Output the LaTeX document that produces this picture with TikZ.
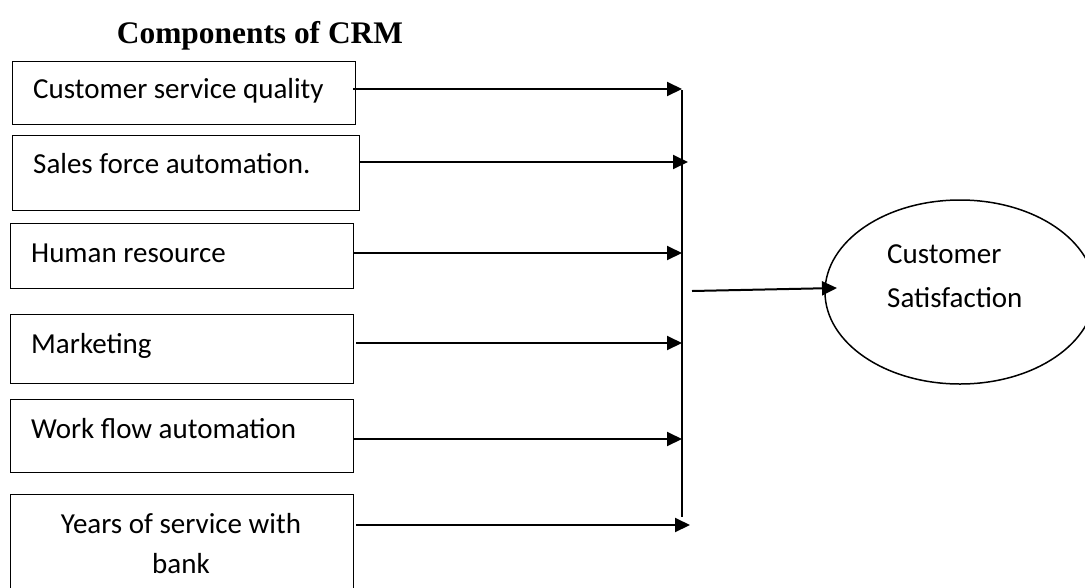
\documentclass[tikz,border=0pt]{standalone}
\usepackage{fontspec}
\setmainfont{Carlito}
\newfontfamily\titlefont{Liberation Serif}
\usetikzlibrary{shapes.geometric,arrows.meta}
\tikzset{
  box/.style={draw, line width=1.4pt, rectangle, inner sep=0pt, anchor=north west},
  lbl/.style={font=\fontsize{29}{35}\selectfont, inner sep=0pt, anchor=base west},
  clbl/.style={font=\fontsize{29}{35}\selectfont, inner sep=0pt, anchor=base},
  arr/.style={line width=2pt, -{Triangle[length=15pt,width=14pt]}},
  bus/.style={line width=1.8pt},
}
\begin{document}
\begin{tikzpicture}[x=1pt,y=-1pt]
\useasboundingbox (0,0) rectangle (1085,587);
\clip (0,0) rectangle (1085,587);
% title
\node[font=\titlefont\bfseries\fontsize{31.4}{36}\selectfont, inner sep=0pt, anchor=base] (title) at (260,43) {Components of CRM};
% boxes
\node[box, minimum width=343pt, minimum height=63pt] (b1) at (12,61) {};
\node[box, minimum width=347pt, minimum height=75pt] (b2) at (12,135) {};
\node[box, minimum width=343pt, minimum height=65pt] (b3) at (10,223) {};
\node[box, minimum width=343pt, minimum height=69pt] (b4) at (10,314) {};
\node[box, minimum width=343pt, minimum height=73pt] (b5) at (10,399) {};
\node[box, minimum width=343pt, minimum height=110pt] (b6) at (10,494) {};
% labels
\node[lbl] (t1) at (33,98) {Customer service quality};
\node[lbl] (t2) at (33,173) {Sales force automation.};
\node[lbl] (t3) at (31,262) {Human resource};
\node[lbl] (t4) at (31,353) {Marketing};
\node[lbl] (t5) at (31,438) {Work flow automation};
\node[clbl] (t6a) at (181,533) {Years of service with};
\node[clbl] (t6b) at (181,573) {bank};
% bus
\coordinate (bt) at (682,90);
\coordinate (bb) at (682,517);
\draw[bus] (bt) -- (bb);
% arrow ends
\coordinate (e1) at (682,89);
\coordinate (e2) at (688,162);
\coordinate (e3) at (682,253);
\coordinate (e4) at (682,343);
\coordinate (e5) at (682,439);
\coordinate (e6) at (690,525);
\coordinate (s1) at (353,89);
\coordinate (s2) at (359,162);
\coordinate (s3) at (353,253);
\coordinate (s4) at (356,343);
\coordinate (s5) at (353,439);
\coordinate (s6) at (356,525);
\draw[arr] (s1) -- (e1);
\draw[arr] (s2) -- (e2);
\draw[arr] (s3) -- (e3);
\draw[arr] (s4) -- (e4);
\draw[arr] (s5) -- (e5);
\draw[arr] (s6) -- (e6);
% ellipse
\node[ellipse, draw, line width=1.5pt, minimum width=270pt, minimum height=184pt, inner sep=0pt] (cs) at (960,292) {};
\node[lbl] (c1) at (887,263) {Customer};
\node[lbl] (c2) at (887,307) {Satisfaction};
\coordinate (os) at (692,291);
\coordinate (oe) at (837,288);
\draw[arr] (os) -- (oe);
\end{tikzpicture}
\end{document}
